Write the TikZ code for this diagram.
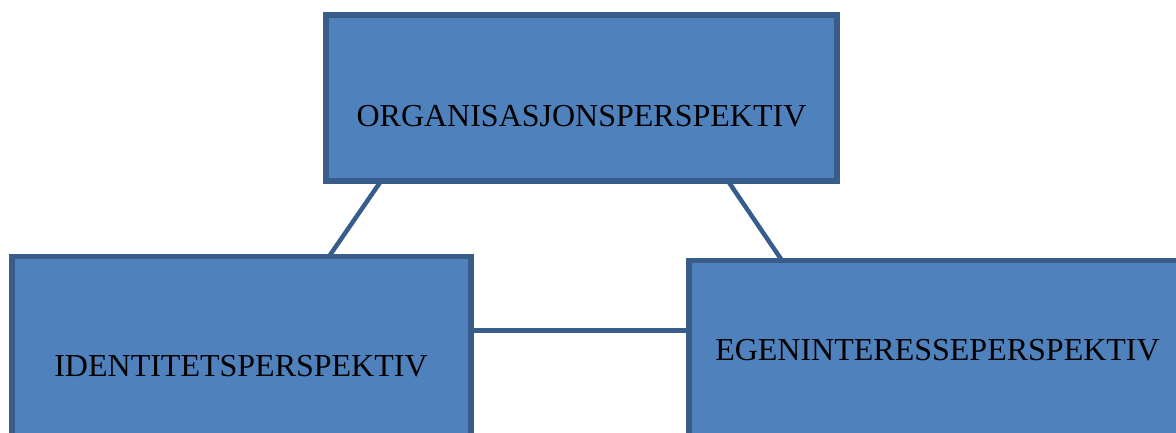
\documentclass[tikz,border=0pt]{standalone}
\usepackage{fontspec}
\setmainfont{Liberation Serif}
\usetikzlibrary{calc}
\definecolor{boxfill}{HTML}{4F81BD}
\definecolor{boxline}{HTML}{385D8A}
\tikzset{
  perspbox/.style={draw=boxline, fill=boxfill, line width=5.5pt, rectangle, anchor=north west, inner sep=0pt, outer sep=0pt},
  persplabel/.style={font=\fontsize{32}{35}\selectfont, text=black, inner sep=0pt},
  link/.style={draw=boxline, line width=4.5pt}
}
\begin{document}
\begin{tikzpicture}[x=1pt,y=-1pt]
\useasboundingbox (0,0) rectangle (1176,432);
\clip (0,0) rectangle (1176,432);
% boxes
\node[perspbox, minimum width=511pt, minimum height=166pt] (top) at (326,15) {};
\node[perspbox, minimum width=459pt, minimum height=200pt] (left) at (12,256.5) {};
\node[perspbox, minimum width=520pt, minimum height=200pt] (right) at (689,260.5) {};
% labels
\node[persplabel] (toplabel) at (581.5,116) {ORGANISASJONSPERSPEKTIV};
\node[persplabel] (leftlabel) at (241,366.5) {IDENTITETSPERSPEKTIV};
\node[persplabel] (rightlabel) at (937.5,350) {EGENINTERESSEPERSPEKTIV};
% connector ends
\coordinate (a1) at ($(top.south west)+(55,0)$);
\coordinate (a2) at ($(left.north west)+(317,0)$);
\coordinate (b1) at ($(top.south west)+(402,0)$);
\coordinate (b2) at ($(right.north west)+(93,0)$);
\coordinate (h1) at ($(left.north east)+(0,74)$);
\coordinate (h2) at ($(right.north west)+(0,70)$);
\draw[link] (a1) -- (a2);
\draw[link] (b1) -- (b2);
\draw[link] (h1) -- (h2);
\end{tikzpicture}
\end{document}
